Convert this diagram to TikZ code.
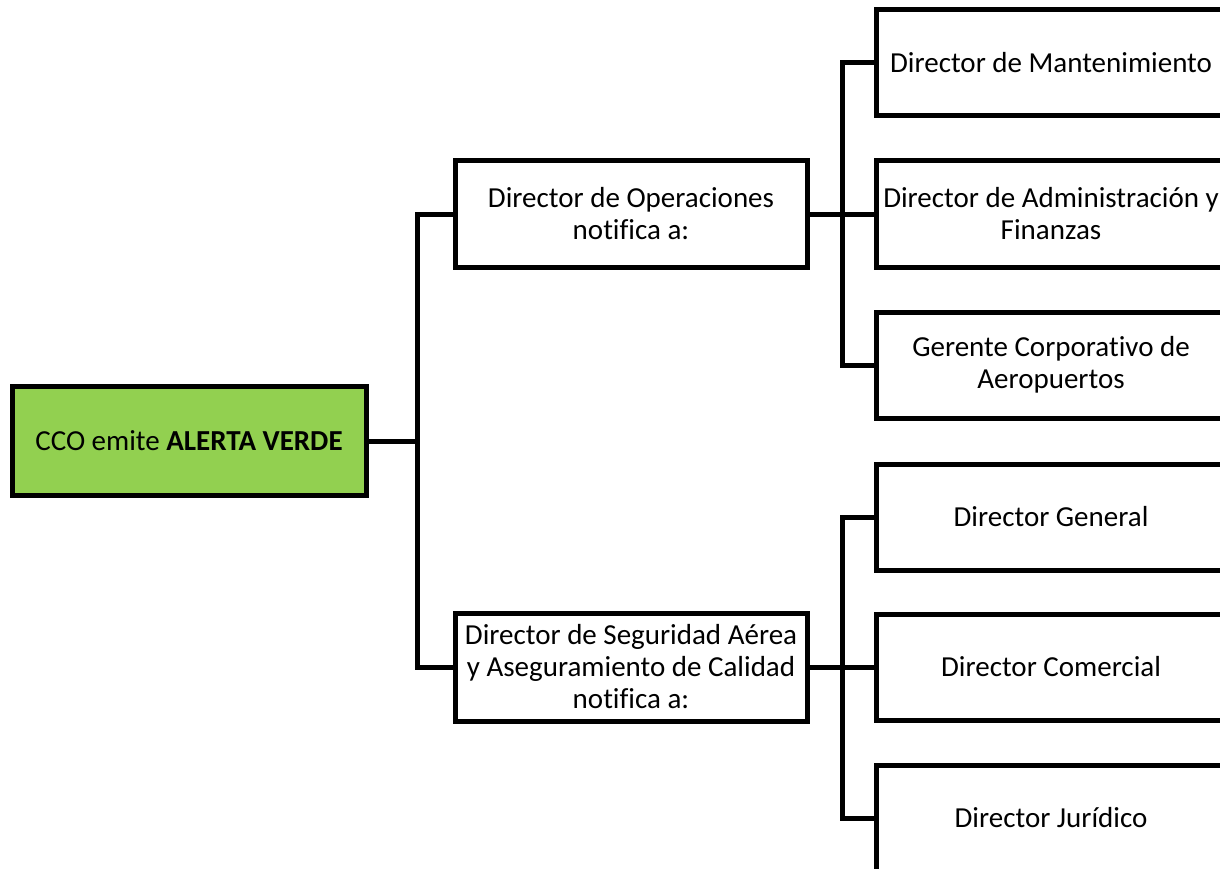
\documentclass[tikz,border=0pt]{standalone}
\usepackage{fontspec}
\setmainfont{Carlito}[Ligatures=CommonOff]
\usepackage{xcolor}
\usepackage{tikz}
\usetikzlibrary{calc, positioning}

\definecolor{verde}{RGB}{146,208,80}

\begin{document}
\begin{tikzpicture}[
        x=1pt, y=-1pt,
        line width=5pt,
        every node/.style={font=\fontsize{29}{32}\selectfont},
        box/.style={draw, fill=white, align=center, inner sep=2pt,
                    outer sep=0pt, minimum width=352pt, minimum height=107pt},
        leaf/.style={box, minimum width=350pt, minimum height=106pt}
]

%--- page -----------------------------------------------------
\useasboundingbox (0,0) rectangle (1220,869);
\clip (0,0) rectangle (1220,869);

%--- root -----------------------------------------------------
\node[box, fill=verde, minimum width=354pt, minimum height=109pt]
      (cco) at (189,441) {CCO emite \textbf{ALERTA VERDE}};

%--- second level ---------------------------------------------
\node[box] (ops) at (631,214) {Director de Operaciones\\notifica a:};
\node[box, minimum height=108pt] (seg) at (631,667)
      {Director de Seguridad Aérea\\y Aseguramiento de Calidad\\notifica a:};

%--- third level (cut at the page edge) ------------------------
\node[leaf] (mant) at (1051,63)  {Director de Mantenimiento};
\node[leaf] (adm)  at (1051,214) {Director de Administración y\\Finanzas};
\node[leaf] (ger)  at (1051,365) {Gerente Corporativo de\\Aeropuertos};

\node[leaf] (gen)  at (1051,517) {Director General};
\node[leaf] (com)  at (1051,667) {Director Comercial};
\node[leaf] (jur)  at (1051,818) {Director Jurídico};

%--- junctions ------------------------------------------------
\coordinate (j0) at (417,441);       % root trunk
\coordinate (j1) at (842,214);       % operaciones trunk
\coordinate (j2) at (842,667);       % seguridad trunk

%--- connectors -----------------------------------------------
\draw (cco.east) -- (j0);
\draw (ops.west) -| (j0) |- (seg.west);

\draw (ops.east) -- (adm.west);
\draw (mant.west) -| (j1) |- (ger.west);

\draw (seg.east) -- (com.west);
\draw (gen.west) -| (j2) |- (jur.west);

\end{tikzpicture}
\end{document}
